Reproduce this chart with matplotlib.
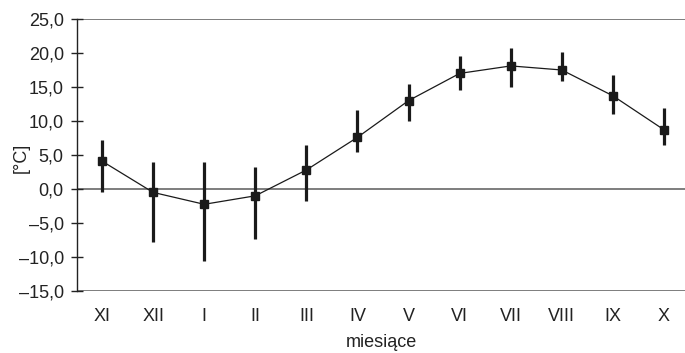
import matplotlib
matplotlib.use("Agg")
import matplotlib.pyplot as plt

months = ["XI", "XII", "I", "II", "III", "IV", "V", "VI", "VII", "VIII", "IX", "X"]
mean_temp = [4.1, -0.5, -2.25, -1.0, 2.8, 7.6, 13.0, 17.0, 18.1, 17.5, 13.7, 8.7]
max_temp = [7.2, 3.9, 4.0, 3.3, 6.4, 11.6, 15.4, 19.6, 20.8, 20.1, 16.7, 11.9]
min_temp = [-0.4, -7.8, -10.6, -7.4, -1.7, 5.5, 10.0, 14.6, 15.0, 15.9, 11.0, 6.5]
yticks = [-15, -10, -5, 0, 5, 10, 15, 20, 25]

plt.rcParams['font.family'] = ['Liberation Sans', 'DejaVu Sans']

fig = plt.figure(figsize=(6.85, 3.53), dpi=100)
ax = fig.add_axes([77/685, 1-291/353, 1-77/685, (291-19)/353])

x = list(range(len(months)))
col = '#1a1a1a'
ax.vlines(x, min_temp, max_temp, color=col, lw=2.3, zorder=3)
ax.plot(x, mean_temp, color=col, lw=0.9, marker='s', ms=5.5, zorder=4)

for yv in (25, 0, -15):
    ax.axhline(yv, color='#5a5a5a', lw=1.1, zorder=1)

for s in ('top', 'right', 'bottom'):
    ax.spines[s].set_visible(False)
ax.spines['left'].set_color('#222222')
ax.spines['left'].set_linewidth(1.0)

ax.set_xlim(-0.49, 11.41)
ax.set_ylim(-15, 25)
ax.set_yticks(yticks)
ax.set_yticklabels([f"{v:.1f}".replace('.', ',').replace('-', '\u2013') for v in yticks])
ax.set_xticks(x)
ax.set_xticklabels(months)
ax.tick_params(axis='y', direction='inout', length=9, width=1.0, color='#222222', pad=5, labelsize=13, labelcolor='#222222')
ax.tick_params(axis='x', length=0, pad=12, labelsize=13, labelcolor='#222222')
ax.set_xlabel('miesiące', fontsize=13, color='#222222', labelpad=7)
ax.set_ylabel('[°C]', fontsize=13, color='#222222')
ax.yaxis.set_label_coords((30 - 77) / 608, 0.49)

fig.savefig('out.png', dpi=100)
